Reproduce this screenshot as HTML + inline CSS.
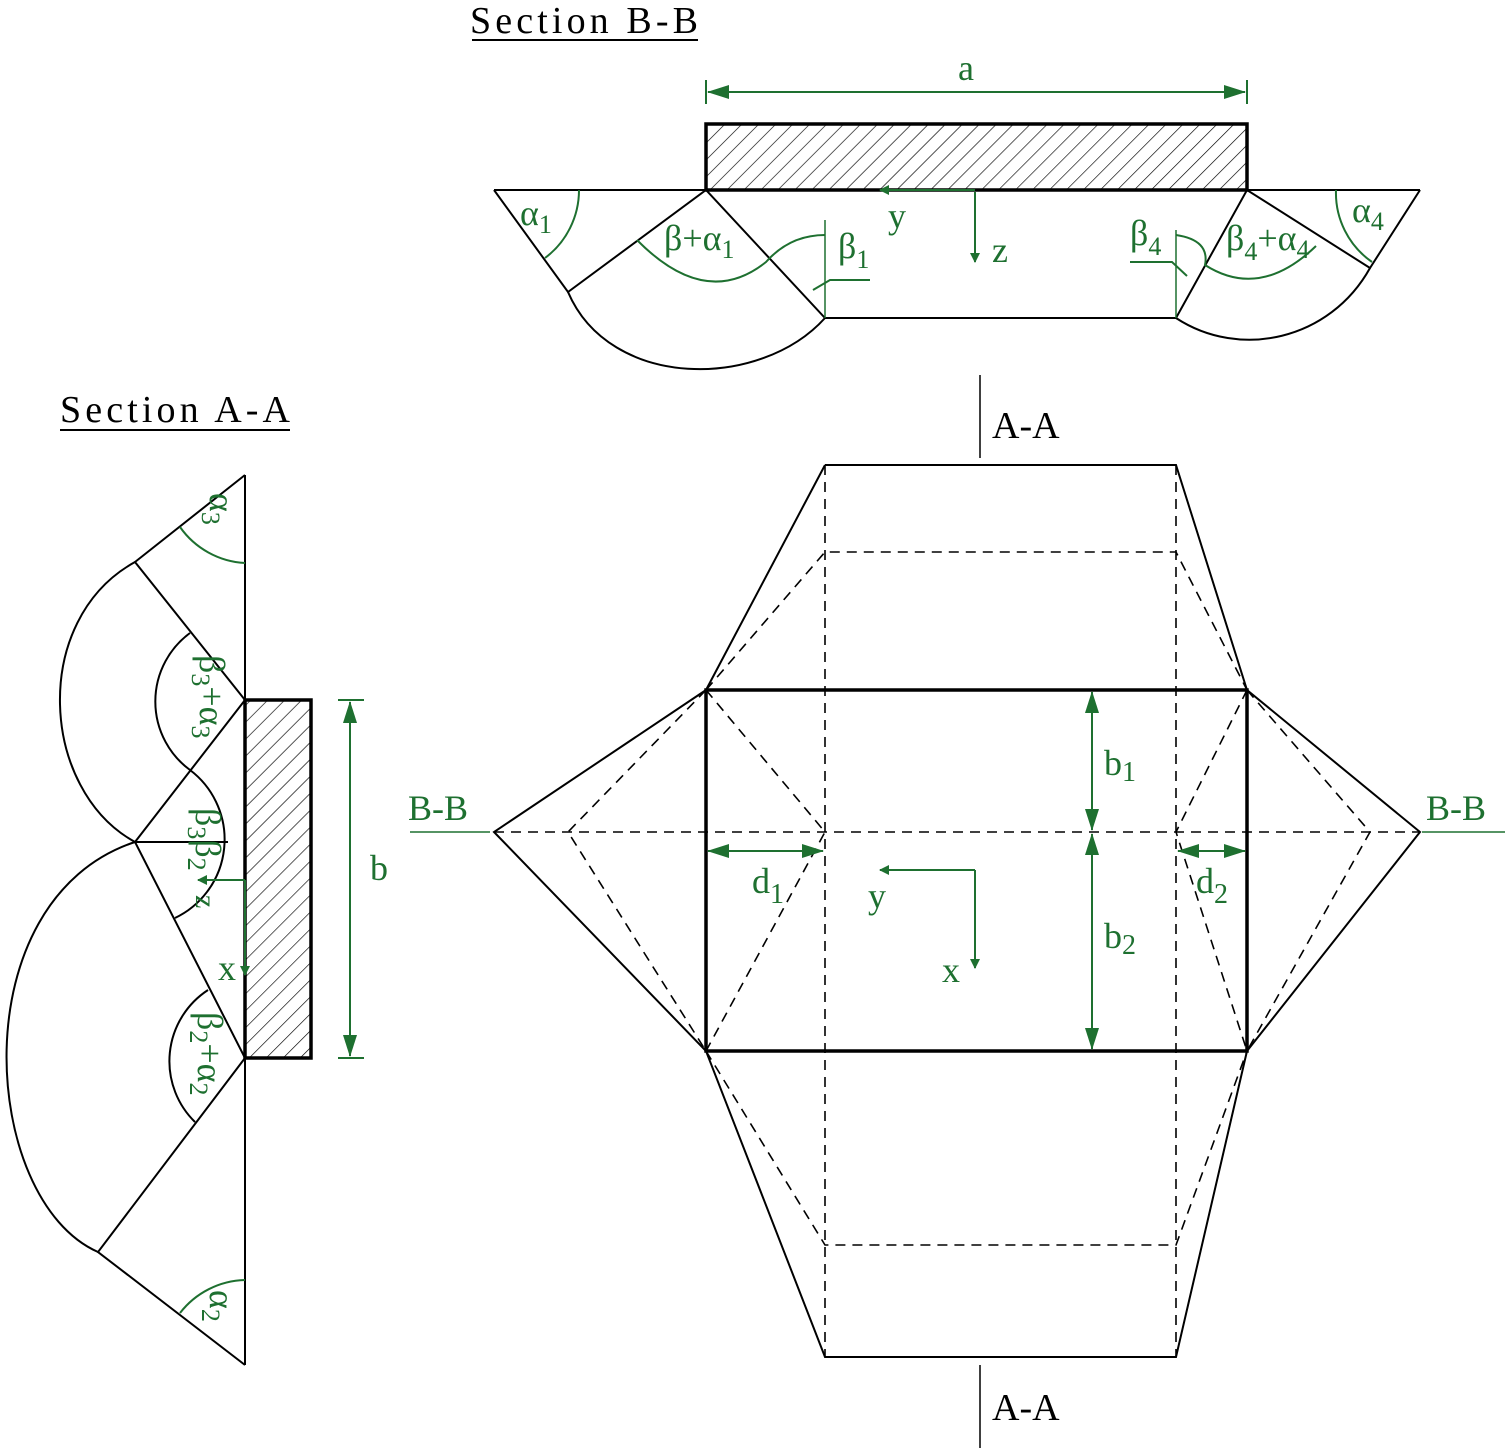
<!DOCTYPE html>
<html><head><meta charset="utf-8"><style>body{margin:0;background:#fff}svg{display:block}</style></head><body>
<svg width="1510" height="1451" viewBox="0 0 1510 1451" xmlns="http://www.w3.org/2000/svg" font-family="Liberation Serif, serif">
<defs>
<pattern id="h" width="12" height="12" patternUnits="userSpaceOnUse" patternTransform="rotate(45)">
<line x1="0" y1="0" x2="0" y2="12" stroke="#000" stroke-width="1.3"/></pattern>
<marker id="ar" markerWidth="10" markerHeight="10" refX="9" refY="5" orient="auto-start-reverse" markerUnits="userSpaceOnUse"><path d="M0,0 L10,5 L0,10 z" fill="#1e7030"/></marker>
<marker id="ab" markerWidth="22" markerHeight="14" refX="21" refY="7" orient="auto-start-reverse" markerUnits="userSpaceOnUse"><path d="M0,0 L22,7 L0,14 z" fill="#1e7030"/></marker>
</defs>
<g fill="none" stroke="#000" stroke-width="2">
<rect x="706" y="124" width="541" height="66" fill="url(#h)" stroke-width="3.5"/>
<line x1="494" y1="190" x2="1420" y2="190"/>
<polyline points="494,190 568,292 706,190 825,318 1176,318 1247,190 1370,268 1420,190"/>
<path d="M568,292 C610,390 760,390 825,318"/>
<path d="M1176,318 C1240,360 1330,340 1370,268"/>
<line x1="245" y1="475" x2="245" y2="1365"/>
<rect x="245" y="700" width="66" height="358" fill="url(#h)" stroke-width="3.5"/>
<polyline points="245,475 135,562 245,700 135,842 245,1058 98,1252 245,1365"/>
<path d="M135,562 C30,620 40,790 135,842"/>
<path d="M135,842 C-40,900 -20,1200 98,1252"/>
<line x1="135" y1="842" x2="228" y2="842"/>
<path d="M190,633 A85,85 0 0 0 190,770"/>
<path d="M190,770 A87,87 0 0 1 175,918"/>
<path d="M208,990 A85,85 0 0 0 195,1122"/>
<rect x="706" y="690" width="541" height="361" stroke-width="3.5"/>
<polyline points="825,465 1176,465 1247,690 1420,832 1247,1051 1176,1357 825,1357 706,1051 494,832 706,690 825,465"/>
<g stroke-dasharray="10,7" stroke-width="1.6">
<line x1="825" y1="465" x2="825" y2="1357"/><line x1="1176" y1="465" x2="1176" y2="1357"/>
<polyline points="706,690 825,552 1176,552 1247,690"/>
<polyline points="706,1051 825,1245 1176,1245 1247,1051"/>
<line x1="494" y1="832" x2="1420" y2="832"/>
<polyline points="706,690 568,832 706,1051"/><polyline points="1247,690 1370,832 1247,1051"/>
<polyline points="706,690 825,832 706,1051"/><polyline points="1247,690 1176,832 1247,1051"/>
</g>
<line x1="980" y1="375" x2="980" y2="458" stroke-width="1.5"/>
<line x1="980" y1="1365" x2="980" y2="1448" stroke-width="1.5"/>
<line x1="472" y1="40" x2="698" y2="40"/>
<line x1="60" y1="430" x2="290" y2="430"/>
</g>
<g fill="none" stroke="#1e7030" stroke-width="2">
<line x1="706" y1="80" x2="706" y2="104"/><line x1="1247" y1="80" x2="1247" y2="104"/>
<line x1="708" y1="92" x2="1245" y2="92" marker-start="url(#ab)" marker-end="url(#ab)"/>
<line x1="825" y1="220" x2="825" y2="318" stroke-width="1.5"/><line x1="1176" y1="230" x2="1176" y2="318" stroke-width="1.5"/>
<path d="M579,190 A85,85 0 0 1 545,258"/>
<path d="M637,240 Q706,310 766,262 Q790,235 825,235"/>
<path d="M813,290 L830,280 L870,280"/>
<path d="M1176,235 Q1210,240 1205,265 Q1260,300 1316,246"/>
<path d="M1187,276 L1172,262 L1130,262"/>
<path d="M1336,190 A84,84 0 0 0 1372,262"/>
<line x1="975" y1="192" x2="975" y2="262" marker-end="url(#ar)"/>
<line x1="975" y1="190" x2="880" y2="190" marker-end="url(#ar)"/>
<path d="M180,527 A85,85 0 0 0 245,563"/>
<path d="M180,1313 A85,85 0 0 1 245,1280"/>
<line x1="245" y1="880" x2="198" y2="880" marker-end="url(#ar)"/>
<line x1="245" y1="880" x2="245" y2="975" marker-end="url(#ar)"/>
<line x1="338" y1="700" x2="364" y2="700"/><line x1="338" y1="1058" x2="364" y2="1058"/>
<line x1="350" y1="702" x2="350" y2="1056" marker-start="url(#ab)" marker-end="url(#ab)"/>
<line x1="1092" y1="692" x2="1092" y2="830" marker-start="url(#ab)" marker-end="url(#ab)"/>
<line x1="1092" y1="834" x2="1092" y2="1049" marker-start="url(#ab)" marker-end="url(#ab)"/>
<line x1="708" y1="851" x2="823" y2="851" marker-start="url(#ab)" marker-end="url(#ab)"/>
<line x1="1178" y1="851" x2="1245" y2="851" marker-start="url(#ab)" marker-end="url(#ab)"/>
<line x1="975" y1="870" x2="880" y2="870" marker-end="url(#ar)"/>
<line x1="975" y1="870" x2="975" y2="968" marker-end="url(#ar)"/>
<line x1="410" y1="832" x2="490" y2="832" stroke-width="1.5"/>
<line x1="1422" y1="832" x2="1505" y2="832" stroke-width="1.5"/>
</g>
<g font-size="38" fill="#000">
<text x="470" y="33" textLength="228">Section B-B</text>
<text x="60" y="422" textLength="230">Section A-A</text>
<text x="992" y="438">A-A</text>
<text x="992" y="1420">A-A</text>
</g>
<g font-size="36" fill="#1e7030">
<text x="958" y="80">a</text>
<text x="408" y="820">B-B</text>
<text x="1426" y="820">B-B</text>
<text x="520" y="225">α<tspan font-size="26" dy="8">1</tspan></text>
<text x="664" y="250">β+α<tspan font-size="26" dy="8">1</tspan></text>
<text x="838" y="258">β<tspan font-size="26" dy="10">1</tspan></text>
<text x="1130" y="245">β<tspan font-size="26" dy="10">4</tspan></text>
<text x="1226" y="250">β<tspan font-size="26" dy="10">4</tspan><tspan dy="-10">+α</tspan><tspan font-size="26" dy="8">4</tspan></text>
<text x="1352" y="222">α<tspan font-size="26" dy="8">4</tspan></text>
<text x="888" y="228">y</text><text x="992" y="262">z</text>
<text x="1104" y="775">b<tspan font-size="28" dy="6">1</tspan></text>
<text x="1104" y="948">b<tspan font-size="28" dy="6">2</tspan></text>
<text x="752" y="893">d<tspan font-size="28" dy="10">1</tspan></text>
<text x="1196" y="893">d<tspan font-size="28" dy="10">2</tspan></text>
<text x="868" y="908">y</text><text x="942" y="982">x</text>
<text x="370" y="880">b</text>
<text x="218" y="980">x</text>
<g transform="translate(210,493) rotate(90)"><text>α<tspan font-size="26" dy="8">3</tspan></text></g>
<g transform="translate(210,1290) rotate(90)"><text>α<tspan font-size="26" dy="8">2</tspan></text></g>
<g transform="translate(200,655) rotate(90)"><text>β<tspan font-size="26" dy="8">3</tspan><tspan dy="-8">+α</tspan><tspan font-size="26" dy="8">3</tspan></text></g>
<g transform="translate(198,1012) rotate(90)"><text>β<tspan font-size="26" dy="8">2</tspan><tspan dy="-8">+α</tspan><tspan font-size="26" dy="8">2</tspan></text></g>
<g transform="translate(196,808) rotate(90)"><text>β<tspan font-size="26" dy="8">3</tspan><tspan dy="-8">β</tspan><tspan font-size="26" dy="8">2</tspan></text></g>
<g transform="translate(196,895) rotate(90)"><text font-size="30">z</text></g>
</g>
</svg>
</body></html>
